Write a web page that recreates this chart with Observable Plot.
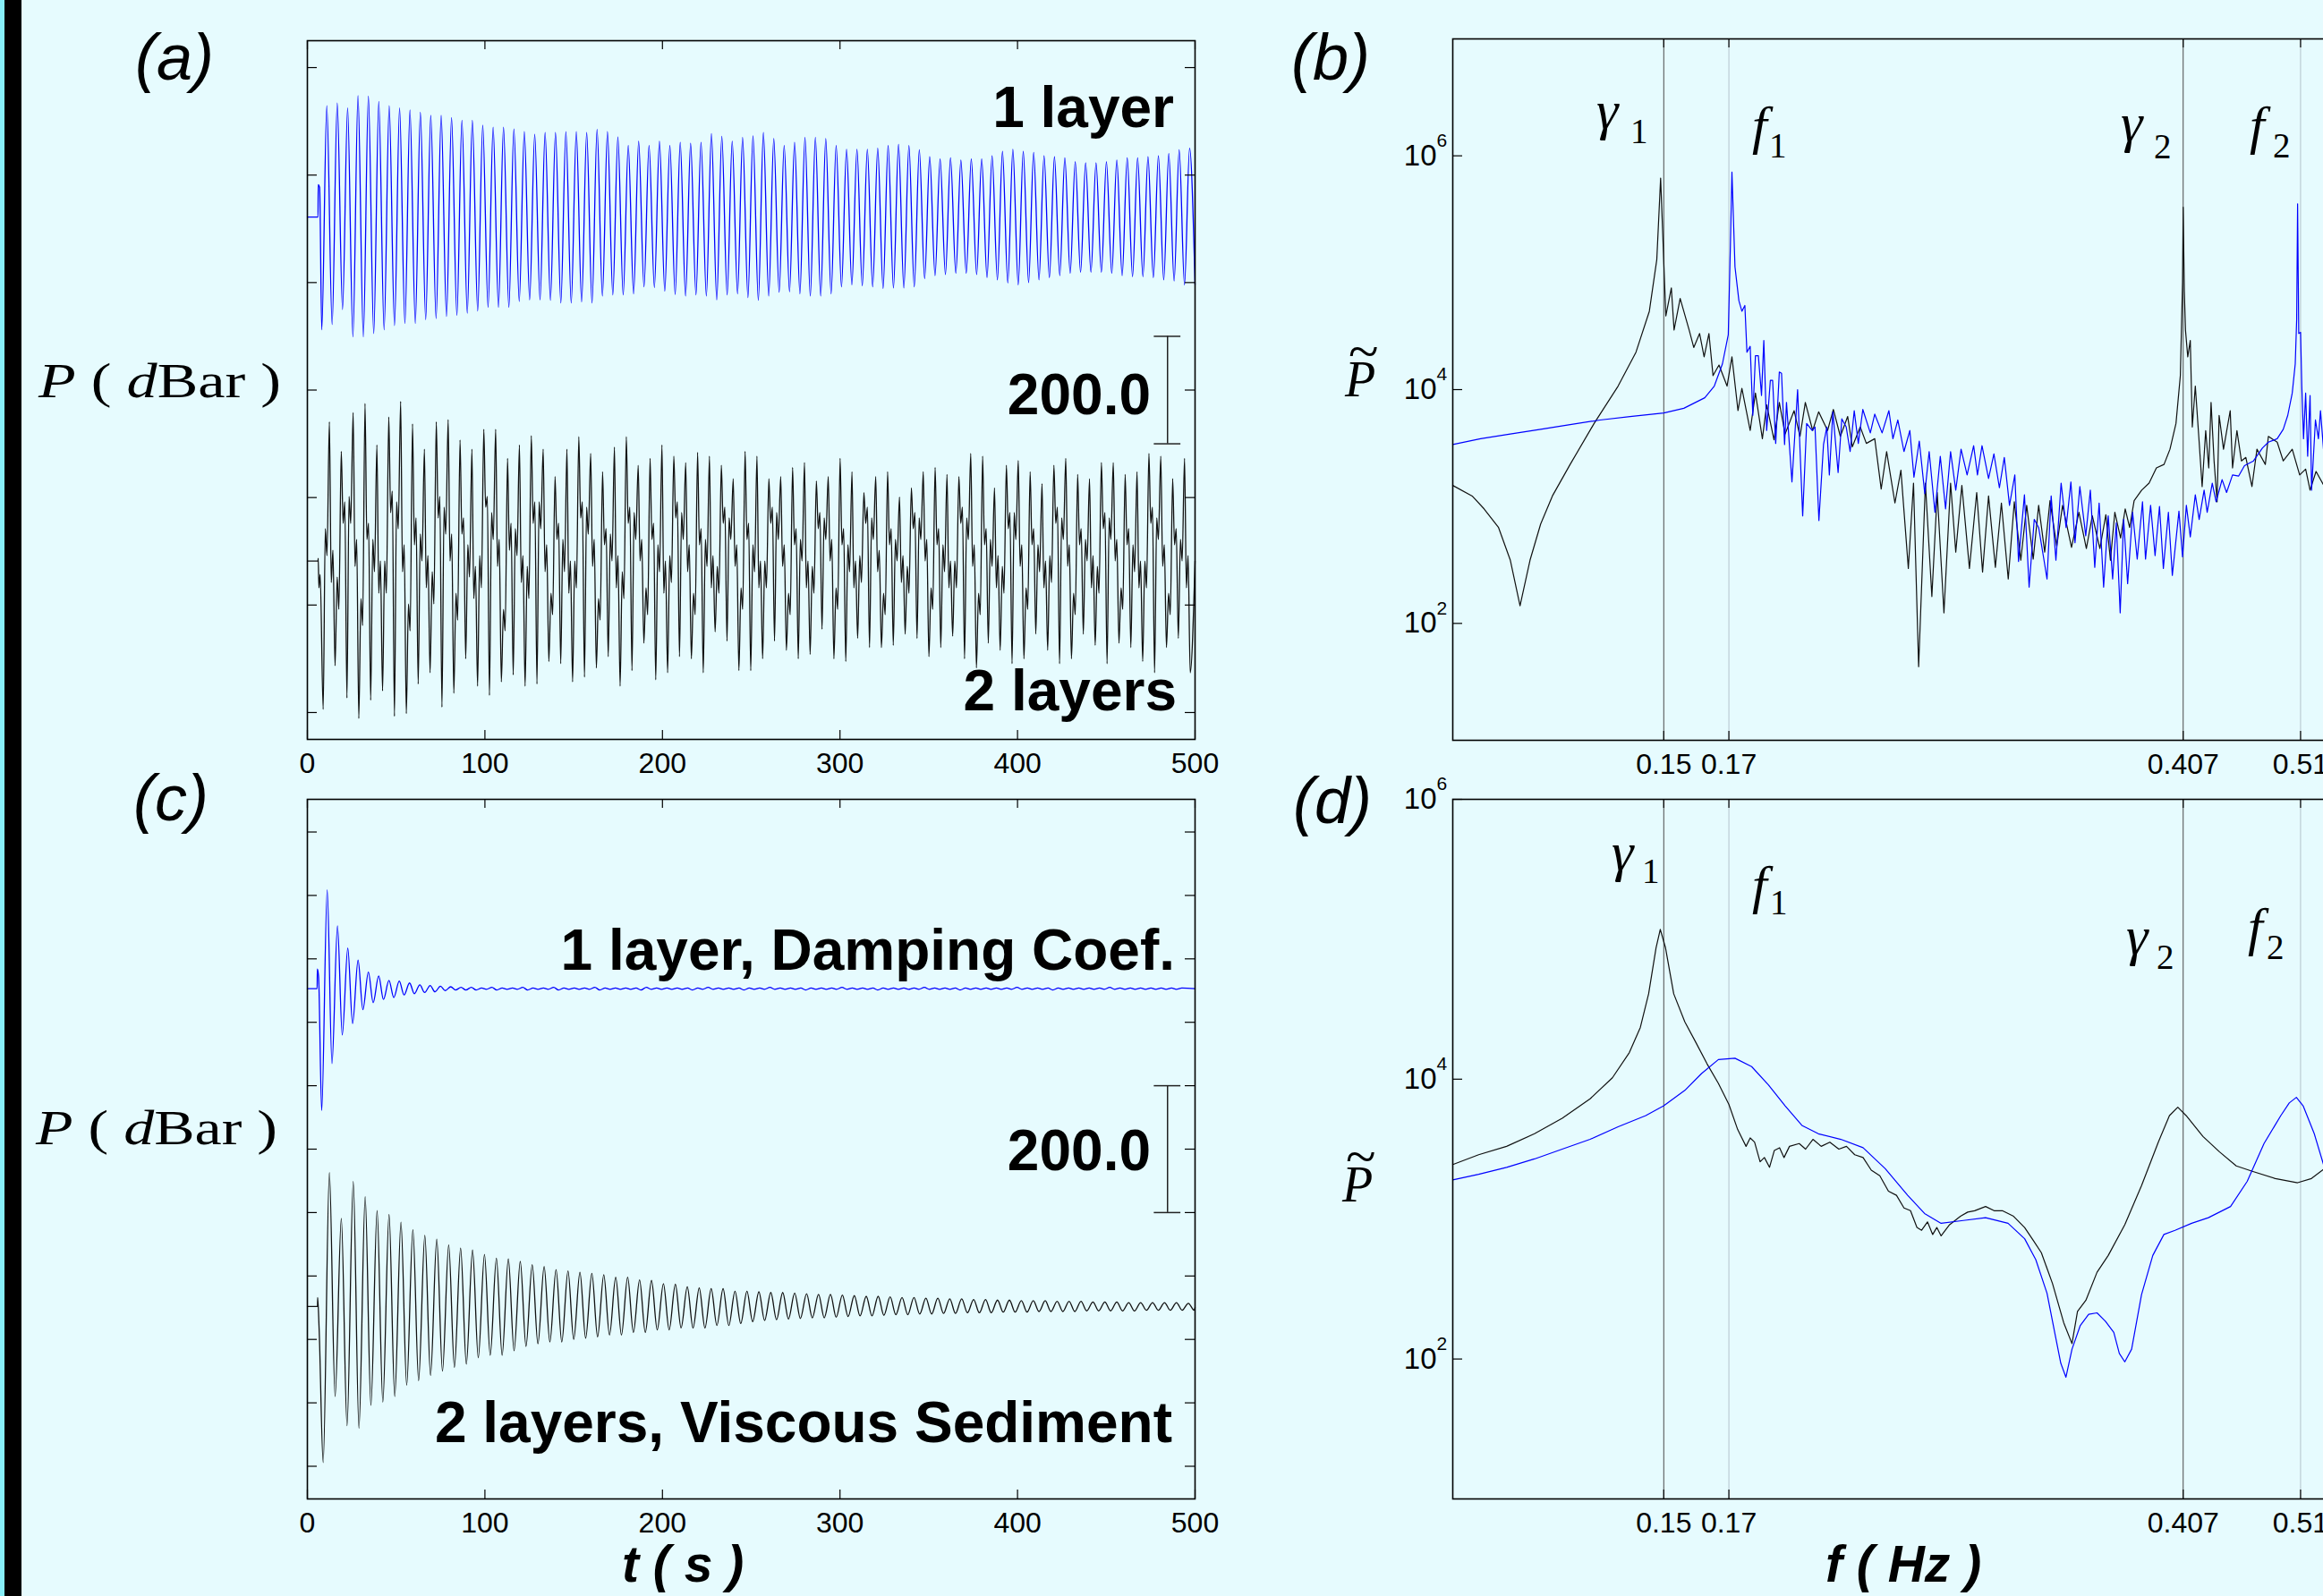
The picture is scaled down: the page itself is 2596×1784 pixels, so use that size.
<!DOCTYPE html>
<html><head><meta charset="utf-8">
<script src="https://cdn.jsdelivr.net/npm/d3@7"></script>
<script src="https://cdn.jsdelivr.net/npm/@observablehq/plot@0.6"></script>
<style>
html,body{margin:0;padding:0;overflow:hidden;background:#E6FBFE;}
#page{position:relative;width:2596px;height:1784px;overflow:hidden;background:#E6FBFE;}
.panel{position:absolute;}
#overlay{position:absolute;left:0;top:0;pointer-events:none;}
</style></head><body><div id="page"></div>
<script>
// ---------------- axis ticks ----------------
const timeTicks = [0, 100, 200, 300, 400, 500];
const pTicksA = [-600, -400, -200, 0, 200, 400, 600];
const pTicksC = [-500, -400, -300, -200, -100, 0, 100, 200, 300, 400, 500];
const freqTicks = [0.15, 0.17, 0.407, 0.51];
const freqLinesDark = [0.15, 0.407];
const freqLinesLight = [0.17, 0.51];
const powTicks = [1e2, 1e4, 1e6];
const scaleBar = [-100, 100];

// ---------------- (a) time series ----------------
const aBlueOffset = 322, aBlackOffset = -318;
const aBlueStart = [[0,0],[6.0,0],[6.1,60],[6.9,55]];
const aBlueTiming = {t0: 8.1, period: 5.855, peakLag: 2.85};
const aBlueTrough = [-210,-200,-172,-223,-223,-217,-210,-202,-198,-198,-191,-189,-185,-183,-179,-175,-168,-168,-168,-157,
 -154,-154,-155,-160,-160,-158,-160,-147,-145,-145,-143,-130,-131,-138,-144,-147,-145,-147,-154,-145,
 -143,-150,-155,-147,-140,-139,-143,-147,-147,-143,-130,-126,-128,-130,-133,-132,-132,-130,-115,-109,
 -107,-105,-105,-107,-113,-117,-123,-126,-122,-117,-113,-109,-105,-103,-103,-103,-105,-109,-111,-111,
 -113,-117,-119,-126];
const aBluePeak = [207,212,203,226,225,215,207,203,199,195,189,189,185,180,180,171,167,167,164,159,
 154,157,157,159,159,157,163,159,149,133,141,133,141,133,139,137,139,155,150,141,
 148,151,157,146,133,139,148,148,146,133,126,126,126,128,133,135,133,125,112,108,
 110,106,108,108,114,122,126,122,120,114,112,110,103,101,101,103,106,110,110,112,
 114,118,125,128];
const aBlueEnd = [[500,-126]];

const aBlackStart = [[0,0],[6.0,0],[6.1,5],[6.5,-50],[7.2,-25]];
const aBlackTiming = {t0: 8.9, period: 6.69, peakLag: 3.5};
const aBlackTrough = [-276,-195,-255,-293,-259,-242,-289,-284,-229,-208,-272,-246,-182,-233,-250,-225,-212,-233,-229,-187,
 -191,-225,-216,-199,-178,-233,-204,-153,-221,-208,-178,-182,-208,-132,-149,-204,-204,
 -182,-149,-166,-182,-174,-127,-182,-187,-144,-161,-161,-157,-136,-144,-178,-161,-140,-182,-199,-153,
 -166,-191,-182,-136,-166,-191,-182,-136,-157,-191,-153,-161,-187,-208,-161,-144,-208];
const aBlackPeak = [259,204,276,293,216,268,297,255,208,259,263,225,208,245,245,191,216,233,208,157,
 208,231,200,166,212,231,178,191,216,195,183,202,195,178,153,204,
 195,153,157,174,183,149,157,191,166,127,157,166,119,136,166,174,161,157,200,195,136,
 178,187,166,144,178,191,161,153,183,183,161,166,200,195,153,191];
// per cycle: rise wiggle (max, min), fall wiggle (min, max)
const aBlackWiggle = [60,10,-40,20, -30,-90,70,110, 120,70,-10,40, -70,-120,40,70, 40,-20,-60,0,
 0,-60,90,130, 110,60,-20,30, -80,-130,30,80, 50,0,-50,10, -20,-80,80,120,
 100,50,0,50, -60,-110,50,80, 30,-30,-70,-10, 10,-50,100,120, 90,40,-10,40,
 -90,-130,20,70, 60,10,-40,10, -10,-70,70,110, 110,60,-20,30, -60,-100,40,70,
 40,-20,-60,0, 0,-50,80,110, 100,50,-10,40, -70,-110,30,60, 50,0,-50,10,
 -20,-70,70,100, 90,40,0,40, -50,-100,40,70, 30,-20,-60,0, 10,-40,80,110,
 90,40,-20,30, -60,-100,30,60, 40,-10,-50,10, -10,-60,70,100, 80,40,-10,30,
 -50,-90,40,70, 30,-20,-50,0, 0,-50,70,100, 90,40,-10,30, -60,-100,30,60,
 40,0,-50,0, -10,-60,60,90, 80,40,0,40, -50,-90,30,60, 30,-20,-50,0,
 10,-40,70,100, 80,40,-20,20, -60,-100,30,60, 40,0,-40,10, -10,-60,60,90,
 80,40,0,40, -50,-90,30,60, 30,-20,-50,0, 0,-50,70,100, 80,40,-10,30,
 -60,-100,30,60, 40,-10,-50,10, -10,-60,60,90, 90,40,-10,30, -50,-90,30,60,
 30,-20,-50,0, 10,-40,70,100, 80,40,-10,30, -60,-100,30,60, 40,0,-50,10,
 -10,-60,60,90, 80,40,0,40, -50,-90,30,60, 30,-20,-50,0, 0,-50,70,100,
 80,40,-10,30, -60,-100,30,60, 40,0,-50,10];
const aBlackEnd = [[500,0]];

// ---------------- (c) time series ----------------
const cBlueOffset = 253, cBlackOffset = -248;
const cBlueStart = [[0,0],[5.5,0],[5.6,31],[6.3,20]];
const cBlueTiming = {t0: 8.06, period: 5.8, peakLag: 3.1};
const cBlueTrough = [-192,-118,-73,-55,-33,-22,-17,-14,-10,-8,-6,-5,
 -3,-2,-2,-2,-1,-2,-1,-1,-2,-1,-1,-2,-1,-1,-1,-2,-1,-1,-1,-2,-1,-1,-1,-1,-2,-1,-1,-1,
 -1,-2,-1,-1,-1,-1,-1,-2,-1,-1,-1,-1,-1,-1,-2,-1,-1,-1,-1,-1,-1,-1,-2,-1,-1,-1,-1,-1,-1,-1,
 -1,-2,-1,-1,-1,-1,-1,-1,-1,-1,-1,-1,-1,-1];
const cBluePeak = [156,99,64,45,26,20,13,12,9,6,5,4,
 3,2,2,1,2,1,1,2,1,1,2,1,1,1,2,1,1,1,1,2,1,1,1,1,1,2,1,1,
 1,1,1,2,1,1,1,1,1,1,2,1,1,1,1,1,1,1,2,1,1,1,1,1,1,1,1,2,1,1,
 1,1,1,1,1,1,2,1,1,1,1,1,1,1];
const cBlueEnd = [[500,0]];

const cBlackStart = [[0,0],[5.7,0],[5.8,14],[6.6,-34]];
const cBlackTiming = {t0: 8.9, period: 6.72, peakLag: 3.5};
const cBlackTrough = [-246,-142,-188,-192,-156,-151,-142,-124,-117,-109,-102,-96,-91,-81,-77,-77,-70,-63,-59,-56,
 -56,-52,-50,-48,-45,-45,-41,-41,-37,-37,-34,-34,-34,-30,-30,-27,
 -24,-22,-21,-20,-19,-18,-18,-17,-16,-15,-15,-14,-13,-13,-12,-12,-11,-11,-10,-10,-10,-9,-9,-9,
 -8,-8,-8,-8,-7,-7,-7,-7,-7,-6,-6,-6,-6,-6];
const cBlackPeak = [211,139,197,173,151,145,133,121,112,106,97,92,89,82,76,75,71,66,63,58,
 56,54,52,50,46,46,42,41,36,35,31,29,28,28,24,
 24,23,22,22,21,20,19,19,18,17,16,16,15,14,14,13,13,12,12,11,11,10,10,9,9,9,
 8,8,8,7,7,7,6,6,6,6,6,5];
const cBlackEnd = [[500,-2]];

// ---------------- spectra: [frequency Hz, log10 amplitude] ----------------
const bBlack = [[0.100,3.18],[0.1038,3.09],[0.1062,2.98],[0.1092,2.82],[0.1117,2.54],[0.1138,2.15],[0.1160,2.54],[0.1184,2.85],[0.1211,3.09],[0.1253,3.36],
 [0.1312,3.71],[0.1374,4.03],[0.1422,4.32],[0.1459,4.67],[0.1480,5.11],[0.1491,5.81],[0.1506,4.63],[0.1522,4.87],[0.1530,4.51],[0.1548,4.78],
 [0.1575,4.51],[0.1589,4.36],[0.1607,4.48],[0.1621,4.28],[0.1636,4.48],[0.1649,4.12],[0.1668,4.21],[0.1694,4.03],[0.1710,4.28],[0.1730,3.82],
 [0.1743,4.01],[0.1771,3.65],[0.1789,3.97],[0.1813,3.58],[0.1828,3.87],[0.1854,3.57],[0.1873,3.89],[0.1894,3.62],[0.1927,3.82],[0.1949,3.60],
 [0.1969,3.89],[0.1997,3.65],[0.2020,3.81],[0.2055,3.65],[0.2078,3.83],[0.2106,3.60],[0.2136,3.77],[0.2155,3.51],[0.2188,3.68],[0.2214,3.54],
 [0.2250,3.58],[0.2278,3.15],[0.2302,3.47],[0.2339,3.03],[0.2366,3.31],[0.2400,2.47],[0.2424,3.20],[0.2448,1.63],[0.2480,3.20],[0.2511,2.23],
 [0.2537,3.12],[0.2570,2.09],[0.2603,3.20],[0.2629,2.61],[0.2660,3.18],[0.2699,2.47],[0.2737,3.12],[0.2768,2.44],[0.2800,3.09],[0.2837,2.48],
 [0.2870,3.03],[0.2908,2.38],[0.2942,3.04],[0.2979,2.54],[0.3013,3.01],[0.3051,2.55],[0.3083,3.01],[0.3119,2.61],[0.3151,3.05],[0.3192,2.66],
 [0.3228,3.01],[0.3284,2.65],[0.3331,2.95],[0.3379,2.64],[0.3418,2.92],[0.3468,2.64],[0.3508,2.93],[0.3539,2.54],[0.3569,2.95],[0.3609,2.73],
 [0.3641,2.98],[0.3672,2.82],[0.3704,3.05],[0.3758,3.14],[0.3812,3.20],[0.3866,3.33],[0.3923,3.36],[0.3968,3.49],[0.4014,3.71],[0.4048,4.12],
 [0.4065,4.92],[0.4070,5.56],[0.4079,4.84],[0.4088,4.51],[0.4106,4.28],[0.4126,4.42],[0.4142,3.68],[0.4166,4.03],[0.4197,3.55],[0.4221,3.17],
 [0.4250,3.65],[0.4275,3.33],[0.4294,3.89],[0.4319,3.39],[0.4344,3.04],[0.4361,3.78],[0.4398,3.49],[0.4455,3.82],[0.4475,3.33],[0.4513,3.65],
 [0.4552,3.39],[0.4591,3.42],[0.4645,3.17],[0.4690,3.49],[0.4766,3.36],[0.4794,3.60],[0.4876,3.55],[0.4933,3.39],[0.5019,3.49],[0.5091,3.27],
 [0.5150,3.32],[0.5194,3.14],[0.5254,3.30],[0.5339,3.17],[0.545,3.30],[0.560,3.20]];
const bBlue = [[0.100,3.53],[0.1055,3.58],[0.1117,3.62],[0.1184,3.66],[0.1253,3.70],[0.1327,3.74],[0.1406,3.77],[0.150,3.80],[0.1559,3.84],[0.1623,3.93],
 [0.1653,4.03],[0.1679,4.22],[0.1698,4.47],[0.1705,5.24],[0.1710,5.86],[0.1720,5.05],[0.1733,4.76],[0.1743,4.67],[0.1753,4.72],[0.1760,4.32],
 [0.1771,4.37],[0.1780,3.78],[0.1789,4.29],[0.1799,4.29],[0.1810,3.95],[0.1818,4.42],[0.1828,3.65],[0.1841,4.08],[0.1849,4.08],[0.1860,3.54],
 [0.1873,4.15],[0.1881,4.14],[0.1892,3.53],[0.1899,3.89],[0.1919,3.21],[0.1940,4.00],[0.1959,2.92],[0.1974,3.71],[0.1995,3.65],[0.2006,3.68],
 [0.2021,2.88],[0.2039,3.53],[0.2052,3.68],[0.2062,3.27],[0.2076,3.81],[0.2097,3.29],[0.2112,3.75],[0.2130,3.68],[0.2146,3.47],[0.2163,3.82],
 [0.2180,3.54],[0.2199,3.83],[0.2231,3.63],[0.2250,3.79],[0.2282,3.63],[0.2312,3.82],[0.2330,3.58],[0.2352,3.74],[0.2380,3.47],[0.2407,3.65],
 [0.2426,3.25],[0.2451,3.56],[0.2477,3.11],[0.2498,3.47],[0.2526,2.95],[0.2552,3.43],[0.2578,2.98],[0.2603,3.47],[0.2629,3.14],[0.2656,3.49],
 [0.2687,3.27],[0.2721,3.52],[0.2741,3.27],[0.2765,3.52],[0.2800,3.24],[0.2829,3.45],[0.2859,3.16],[0.2886,3.42],[0.2915,3.01],[0.2945,3.27],
 [0.2966,2.53],[0.3000,3.10],[0.3027,2.31],[0.3057,2.89],[0.3083,2.82],[0.3115,2.54],[0.3133,2.38],[0.3158,3.09],[0.3187,2.54],[0.3219,3.20],
 [0.3250,2.82],[0.3280,3.21],[0.3306,2.69],[0.3337,3.17],[0.3375,2.75],[0.3405,3.14],[0.3434,2.48],[0.3463,3.03],[0.3493,2.31],[0.3524,2.92],
 [0.3554,2.38],[0.3579,2.86],[0.3606,2.09],[0.3630,2.89],[0.3658,2.34],[0.3693,2.95],[0.3726,2.55],[0.3764,3.04],[0.3786,2.55],[0.3823,3.01],
 [0.3856,2.58],[0.3889,3.00],[0.3918,2.47],[0.3956,2.95],[0.3986,2.41],[0.4037,2.96],[0.4065,2.57],[0.4095,3.01],[0.4126,2.74],[0.4166,3.10],
 [0.4197,2.89],[0.4237,3.14],[0.4262,2.95],[0.4304,3.20],[0.4336,3.04],[0.4386,3.23],[0.4424,3.12],[0.4475,3.27],[0.4527,3.26],[0.4579,3.35],
 [0.4659,3.39],[0.4739,3.50],[0.4794,3.55],[0.4876,3.58],[0.4933,3.66],[0.4976,3.78],[0.5019,3.97],[0.5048,4.22],[0.5062,4.60],[0.5071,5.59],
 [0.5082,4.48],[0.5100,4.49],[0.5112,4.03],[0.5129,3.58],[0.5150,3.97],[0.5170,3.43],[0.5194,3.95],[0.5209,3.14],[0.5248,3.74],[0.5278,3.58],
 [0.5299,3.82],[0.5339,3.39],[0.545,3.70],[0.560,3.50]];
const dBlack = [[0.100,3.39],[0.1051,3.46],[0.1109,3.52],[0.1170,3.61],[0.1234,3.72],[0.1302,3.86],[0.1359,4.01],[0.1404,4.19],[0.1434,4.37],[0.1457,4.61],
 [0.1478,4.94],[0.1490,5.07],[0.1505,4.94],[0.1529,4.61],[0.1562,4.41],[0.1596,4.26],[0.1630,4.11],[0.1666,3.97],[0.1700,3.82],[0.1729,3.64],
 [0.1757,3.52],[0.1771,3.58],[0.1786,3.55],[0.1805,3.41],[0.1820,3.44],[0.1838,3.37],[0.1855,3.49],[0.1874,3.51],[0.1890,3.44],[0.1910,3.52],
 [0.1946,3.54],[0.1970,3.50],[0.1998,3.57],[0.2030,3.52],[0.2064,3.55],[0.2100,3.50],[0.2131,3.52],[0.2165,3.46],[0.2200,3.44],[0.2235,3.35],
 [0.2272,3.31],[0.2310,3.20],[0.2346,3.17],[0.2380,3.08],[0.2410,3.06],[0.2440,2.94],[0.2462,2.92],[0.2490,2.98],[0.2515,2.89],[0.2535,2.94],
 [0.2556,2.88],[0.2598,2.96],[0.2653,3.02],[0.2690,3.05],[0.2726,3.06],[0.2784,3.09],[0.2830,3.06],[0.2875,3.06],[0.2938,3.02],[0.3001,2.94],
 [0.3050,2.85],[0.3099,2.76],[0.3166,2.54],[0.3235,2.26],[0.3287,2.11],[0.3322,2.34],[0.3376,2.42],[0.3449,2.62],[0.3524,2.74],[0.3638,2.96],
 [0.3757,3.24],[0.3880,3.55],[0.3964,3.74],[0.4028,3.80],[0.4093,3.74],[0.4228,3.59],[0.4365,3.48],[0.4507,3.38],[0.4654,3.34],[0.4858,3.29],
 [0.5071,3.26],[0.5208,3.29],[0.5338,3.36],[0.550,3.45],[0.570,3.50]];
const dBlue = [[0.100,3.28],[0.1051,3.32],[0.1109,3.37],[0.1170,3.43],[0.1234,3.50],[0.1302,3.57],[0.1374,3.66],[0.1449,3.74],[0.150,3.81],[0.1562,3.92],
 [0.1613,4.04],[0.1666,4.14],[0.1720,4.15],[0.1776,4.09],[0.1834,3.96],[0.1894,3.81],[0.1956,3.67],[0.2019,3.61],[0.2108,3.57],[0.2200,3.51],
 [0.2296,3.36],[0.2397,3.17],[0.2476,3.04],[0.2556,2.97],[0.2667,2.99],[0.2784,3.01],[0.2907,2.97],[0.3001,2.86],[0.3066,2.71],[0.3133,2.47],
 [0.3183,2.17],[0.3217,1.97],[0.3249,1.87],[0.3287,2.07],[0.3340,2.24],[0.3394,2.32],[0.3449,2.33],[0.3505,2.27],[0.3562,2.19],[0.3600,2.04],
 [0.3638,1.98],[0.3686,2.07],[0.3757,2.46],[0.3839,2.74],[0.3922,2.89],[0.4007,2.92],[0.4137,2.97],[0.4272,3.01],[0.4458,3.09],[0.4603,3.27],
 [0.4754,3.54],[0.4910,3.74],[0.4990,3.83],[0.5059,3.87],[0.5125,3.81],[0.5236,3.61],[0.5338,3.37],[0.550,3.10],[0.570,2.90]];

// ---------------- helpers ----------------
function oscillation(start, timing, troughs, peaks, end, offset, wiggle) {
  const pts = start.map(([t, v]) => ({t, v: v + offset}));
  troughs.forEach((tv, i) => {
    const t = timing.t0 + i * timing.period;
    pts.push({t, v: tv + offset});
    if (i >= peaks.length) return;
    const w = wiggle ? wiggle.slice(4 * i, 4 * i + 4) : [];
    if (w.length === 4) {
      pts.push({t: t + 0.18 * timing.period, v: w[0] + offset});
      pts.push({t: t + 0.32 * timing.period, v: w[1] + offset});
    }
    pts.push({t: t + timing.peakLag, v: peaks[i] + offset});
    if (w.length === 4) {
      pts.push({t: t + 0.68 * timing.period, v: w[2] + offset});
      pts.push({t: t + 0.82 * timing.period, v: w[3] + offset});
    }
  });
  end.forEach(([t, v]) => pts.push({t, v: v + offset}));
  return pts.filter(p => p.t <= 500).sort((a, b) => a.t - b.t);
}

const BLUE = "#0000ff", BLACK = "#111111";
const SANS = "'Liberation Sans', Arial, sans-serif";
const SERIF = "'Liberation Serif', 'Times New Roman', serif";
const page = document.getElementById("page");

function place(svg, left, top) {
  svg.classList.add("panel");
  svg.style.left = left + "px";
  svg.style.top = top + "px";
  page.appendChild(svg);
}

function timePanel({top, mt, mb, yDomain, yTicks, series}) {
  const W = 1400, H = 900, ml = 343, mr = 65;
  const ph = H - mt - mb, pw = W - ml - mr;
  const marks = [
    ...series.map(s => Plot.line(s.data, {x: "t", y: "v", stroke: s.color, strokeWidth: 1.3, curve: "monotone-x"})),
    Plot.ruleX([484.5], {x: d => d, y1: scaleBar[0], y2: scaleBar[1], stroke: "#222", strokeWidth: 1.5}),
    Plot.ruleY(scaleBar, {y: d => d, x1: 477, x2: 492, stroke: "#222", strokeWidth: 1.5}),
    Plot.frame({stroke: "#000", strokeWidth: 1.6}),
    Plot.tickX(timeTicks, {x: d => d, insetTop: ph - 10, stroke: "#000", strokeWidth: 1.2}),
    Plot.tickX(timeTicks, {x: d => d, insetBottom: ph - 10, stroke: "#000", strokeWidth: 1.2}),
    Plot.tickY(yTicks, {y: d => d, insetRight: pw - 11, stroke: "#000", strokeWidth: 1.2}),
    Plot.tickY(yTicks, {y: d => d, insetLeft: pw - 11, stroke: "#000", strokeWidth: 1.2}),
    Plot.axisX({ticks: timeTicks, tickSize: 0, tickPadding: 15, fontSize: 32, label: null, tickFormat: d => String(d)})
  ];
  const svg = Plot.plot({
    width: W, height: H, marginLeft: ml, marginRight: mr, marginTop: mt, marginBottom: mb,
    x: {domain: [0, 500], axis: null, label: null},
    y: {domain: yDomain, axis: null, label: null},
    style: {background: "transparent", color: "#000", fontFamily: SANS, fontSize: "32px", overflow: "visible"},
    marks
  });
  place(svg, 0, top);
}

function specPanel({top, mt, mb, yDomain, black, blue}) {
  const W = 1592, H = 900, ml = 223, mr = 30;
  const ph = H - mt - mb, pw = W - ml - mr;
  const marks = [
    Plot.ruleX(freqLinesDark, {x: d => d, stroke: "#4a4a4a", strokeWidth: 1}),
    Plot.ruleX(freqLinesLight, {x: d => d, stroke: "#b4c2cc", strokeWidth: 1}),
    Plot.line(black, {x: d => d[0], y: d => 10 ** d[1], stroke: BLACK, strokeWidth: 1.2}),
    Plot.line(blue, {x: d => d[0], y: d => 10 ** d[1], stroke: BLUE, strokeWidth: 1.2}),
    Plot.frame({stroke: "#000", strokeWidth: 1.6}),
    Plot.tickX(freqTicks, {x: d => d, insetTop: ph - 10, stroke: "#000", strokeWidth: 1.2}),
    Plot.tickX(freqTicks, {x: d => d, insetBottom: ph - 10, stroke: "#000", strokeWidth: 1.2}),
    Plot.tickY(powTicks, {y: d => d, insetRight: pw - 11, stroke: "#000", strokeWidth: 1.2}),
    Plot.tickY(powTicks, {y: d => d, insetLeft: pw - 11, stroke: "#000", strokeWidth: 1.2}),
    Plot.axisX({ticks: freqTicks, tickSize: 0, tickPadding: 15, fontSize: 32, label: null, tickFormat: d => String(d)}),
    Plot.text(powTicks, {y: d => d, frameAnchor: "left", text: () => "10", textAnchor: "end", lineAnchor: "middle", dx: -18, fontSize: 33, fontFamily: SANS}),
    Plot.text(powTicks, {y: d => d, frameAnchor: "left", text: d => String(Math.round(Math.log10(d))), textAnchor: "start", lineAnchor: "middle", dx: -18, dy: -17, fontSize: 21, fontFamily: SANS})
  ];
  const svg = Plot.plot({
    width: W, height: H, marginLeft: ml, marginRight: mr, marginTop: mt, marginBottom: mb,
    x: {type: "log", domain: [0.1, 1], axis: null, label: null},
    y: {type: "log", domain: yDomain, axis: null, label: null},
    style: {background: "transparent", color: "#000", fontFamily: SANS, fontSize: "32px", overflow: "visible"},
    marks
  });
  place(svg, 1400, top);
}

// ---------------- build panels ----------------
timePanel({top: 0, mt: 45, mb: 74, yDomain: [-650, 650], yTicks: pTicksA, series: [
  {data: oscillation(aBlueStart, aBlueTiming, aBlueTrough, aBluePeak, aBlueEnd, aBlueOffset), color: BLUE},
  {data: oscillation(aBlackStart, aBlackTiming, aBlackTrough, aBlackPeak, aBlackEnd, aBlackOffset, aBlackWiggle), color: BLACK}
]});
timePanel({top: 850, mt: 43, mb: 75, yDomain: [-551.5, 551.5], yTicks: pTicksC, series: [
  {data: oscillation(cBlueStart, cBlueTiming, cBlueTrough, cBluePeak, cBlueEnd, cBlueOffset), color: BLUE},
  {data: oscillation(cBlackStart, cBlackTiming, cBlackTrough, cBlackPeak, cBlackEnd, cBlackOffset), color: BLACK}
]});
specPanel({top: 0, mt: 43, mb: 73, yDomain: [10, 1e7], black: bBlack, blue: bBlue});
specPanel({top: 850, mt: 43, mb: 75, yDomain: [10, 1e6], black: dBlack, blue: dBlue});

// ---------------- page decorations and annotations ----------------
const stripeC = document.createElement("div");
stripeC.style.cssText = "position:absolute;left:0;top:0;width:5px;height:1784px;background:#86EEF8;";
const stripeK = document.createElement("div");
stripeK.style.cssText = "position:absolute;left:5px;top:0;width:19px;height:1784px;background:#000;";
page.appendChild(stripeC); page.appendChild(stripeK);

const NS = "http://www.w3.org/2000/svg";
const ov = document.createElementNS(NS, "svg");
ov.setAttribute("id", "overlay");
ov.setAttribute("width", "2596"); ov.setAttribute("height", "1784");
const bold = (x, y, s) => `<text x="${x}" y="${y}" text-anchor="end" font-family="${SANS}" font-weight="bold" font-size="64">${s}</text>`;
const greek = (x, y, g, size, sx, sy, sub) => `<text x="${x}" y="${y}" font-family="${SERIF}" font-style="italic" font-size="${size}">${g}</text><text x="${sx}" y="${sy}" font-family="${SERIF}" font-size="39">${sub}</text>`;
ov.innerHTML = `
<g font-family="${SANS}" font-style="italic" font-size="72">
  <text x="151" y="89">(a)</text><text x="1443" y="89">(b)</text>
  <text x="149" y="917">(c)</text><text x="1445" y="920">(d)</text>
</g>
<g font-family="${SERIF}" font-size="54">
  <text x="43" y="444" textLength="271" lengthAdjust="spacingAndGlyphs"><tspan font-style="italic">P</tspan> ( <tspan font-style="italic">d</tspan>Bar )</text>
  <text x="40" y="1279" textLength="270" lengthAdjust="spacingAndGlyphs"><tspan font-style="italic">P</tspan> ( <tspan font-style="italic">d</tspan>Bar )</text>
  <text x="1503" y="443" font-style="italic" font-size="56">P</text><text x="1507" y="413" font-size="62">~</text>
  <text x="1500" y="1343" font-style="italic" font-size="56">P</text><text x="1504" y="1313" font-size="62">~</text>
</g>
${greek(1784, 144, "γ", 62, 1822, 160, "1")}
${greek(1958, 160, "f", 60, 1977, 176, "1")}
${greek(2370, 158, "γ", 62, 2407, 177, "2")}
${greek(2514, 160, "f", 60, 2540, 176, "2")}
${greek(1801, 973, "γ", 62, 1835, 987, "1")}
${greek(1958, 1009, "f", 60, 1978, 1022, "1")}
${greek(2376, 1067, "γ", 62, 2410, 1083, "2")}
${greek(2512, 1056, "f", 60, 2533, 1072, "2")}
${bold(1312, 142, "1 layer")}
${bold(1286, 463, "200.0")}
${bold(1315, 794, "2 layers")}
${bold(1313, 1084, "1 layer, Damping Coef.")}
${bold(1286, 1308, "200.0")}
${bold(1310, 1612, "2 layers, Viscous Sediment")}
<g font-family="${SANS}" font-weight="bold" font-style="italic" font-size="57">
  <text x="695" y="1768">t ( s )</text>
  <text x="2040" y="1768">f ( Hz )</text>
</g>`;
page.appendChild(ov);
</script></body></html>
